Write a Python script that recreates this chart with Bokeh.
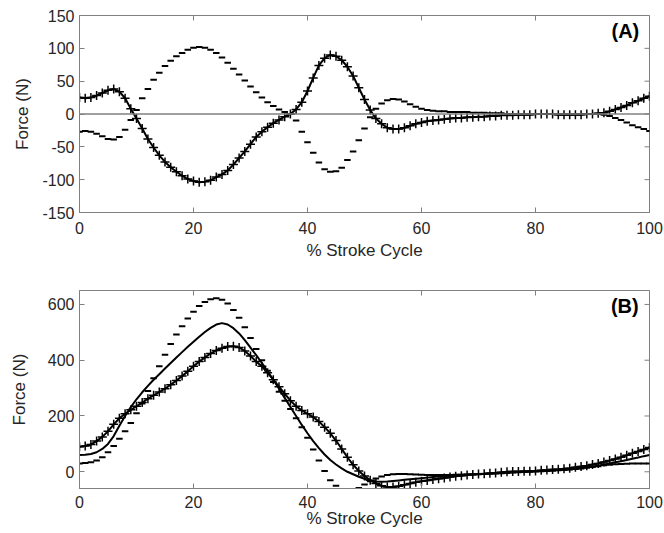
import math
from bokeh.plotting import figure
from bokeh.layouts import column
from bokeh.models import Range1d, Span, Label, FixedTicker
from bokeh.embed import file_html
from bokeh.resources import INLINE

# ---------------- data ----------------
pct = list(range(101))

x_ticks = [0, 20, 40, 60, 80, 100]
x_tick_labels = ["0", "20", "40", "60", "80", "100"]

A_yrange = (-150, 150)
A_yticks = [-150, -100, -50, 0, 50, 100, 150]
A_ytick_labels = ["-150", "-100", "-50", "0", "50", "100", "150"]
B_yrange = (-60, 650)
B_yticks = [0, 200, 400, 600]
B_ytick_labels = ["0", "200", "400", "600"]

# Panel (A)
A_plus = [25, 24, 25, 28, 32, 36, 38, 34, 24, 8,
          -7, -22, -38, -51, -63, -73, -81, -88, -94, -99,
          -102, -104, -103, -101, -96, -92, -86, -77, -67, -57,
          -46, -35, -27, -20, -14, -9, -4, 0, 7, 18,
          35, 55, 74, 85, 90, 88, 82, 72, 58, 40,
          22, 6, -7, -15, -21, -23, -23, -21, -18, -15,
          -13, -11, -10, -9, -8, -7, -6, -6, -5, -5,
          -4, -4, -3, -3, -2, -2, -2, -1, -1, -1,
          0, 0, 0, 0, -1, -1, -1, -1, -1, 0,
          0, 1, 2, 4, 7, 10, 13, 17, 20, 24, 27]

A_dash = [-27, -26, -27, -30, -34, -38, -39, -35, -24, -9,
          6, 24, 38, 52, 63, 73, 81, 88, 93, 98,
          101, 102, 101, 98, 93, 86, 78, 69, 60, 51,
          42, 33, 25, 18, 12, 7, 3, 0, -10, -27,
          -43, -59, -74, -84, -88, -87, -82, -70, -57, -40,
          -22, -5, 8, 16, 21, 23, 22, 19, 15, 11,
          8, 6, 5, 4, 4, 3, 3, 3, 3, 2,
          2, 2, 1, 1, 1, 0, 0, 0, 0, 0,
          0, 0, 0, 0, 0, 0, 0, 0, 0, 0,
          0, 0, -1, -3, -6, -9, -13, -17, -20, -23, -26]

# Panel (B)
B_plus = [90, 92, 98, 110, 125, 145, 170, 192, 208, 222,
          235, 248, 262, 274, 286, 298, 312, 327, 343, 360,
          378, 395, 410, 424, 435, 443, 449, 450, 446, 433,
          415, 395, 378, 355, 330, 305, 280, 255, 235, 220,
          208, 196, 180, 160, 138, 112, 82, 52, 25, 3,
          -15, -30, -42, -50, -55, -55, -52, -47, -42, -38,
          -34, -31, -28, -25, -22, -19, -16, -14, -12, -10,
          -8, -7, -5, -4, -2, 0, 1, 1, 2, 2,
          3, 5, 6, 8, 9, 11, 13, 16, 19, 22,
          26, 30, 35, 40, 46, 52, 59, 66, 73, 80, 87]

B_dash = [30, 31, 34, 40, 52, 70, 92, 118, 145, 175,
          210, 245, 290, 335, 378, 420, 458, 492, 522, 550,
          574, 594, 609, 619, 622, 617, 603, 580, 552, 518,
          480, 440, 400, 362, 322, 287, 255, 225, 192, 160,
          122, 80, 40, 3, -30, -50, -62, -67, -65, -58,
          -46, -34, -24, -17, -12, -9, -8, -8, -9, -10,
          -11, -12, -12, -12, -12, -12, -11, -11, -10, -10,
          -9, -8, -7, -6, -5, -4, -3, -2, -1, 0,
          1, 2, 3, 4, 5, 6, 8, 10, 12, 14,
          17, 20, 23, 25, 27, 28, 29, 30, 30, 30, 30]

B_line = [60, 61, 64, 70, 82, 100, 128, 165, 200, 232,
          260, 285, 308, 330, 350, 370, 390, 410, 429, 448,
          466, 484, 501, 516, 528, 533, 528, 515, 496, 472,
          445, 418, 390, 360, 330, 298, 265, 232, 200, 168,
          138, 110, 85, 62, 42, 26, 12, 0, -9, -18,
          -25, -31, -35, -36, -35, -33, -31, -29, -27, -25,
          -23, -21, -19, -17, -15, -13, -12, -11, -10, -9,
          -8, -7, -6, -5, -4, -3, -2, -1, 0, 1,
          2, 3, 4, 5, 6, 7, 9, 11, 13, 16,
          19, 22, 26, 30, 34, 38, 42, 47, 51, 56, 60]

# ---------------- styling ----------------
GRAY = "#808080"
TXT = "#262626"
FONT = "Liberation Sans"


def style_axis(ax, ticks, labels):
    ax.ticker = FixedTicker(ticks=ticks)
    ax.axis_line_color = GRAY
    ax.major_tick_line_color = GRAY
    ax.major_tick_in = 5
    ax.major_tick_out = 0
    ax.minor_tick_line_color = None
    ax.major_label_overrides = {t: l for t, l in zip(ticks, labels)}
    ax.major_label_text_font = FONT
    ax.major_label_text_font_size = "16px"
    ax.major_label_text_color = TXT
    ax.major_label_standoff = 5
    ax.axis_label_text_font = FONT
    ax.axis_label_text_font_size = "17px"
    ax.axis_label_text_font_style = "normal"
    ax.axis_label_text_color = TXT


def make_fig(height, yr, yticks, ylabels, top, bottom, ylab_standoff, xlab_standoff, xtick_standoff):
    p = figure(width=664, height=height, x_range=Range1d(0, 100), y_range=Range1d(*yr),
               output_backend="svg", toolbar_location=None,
               min_border_left=79, min_border_right=15,
               min_border_top=top, min_border_bottom=bottom)
    p.xgrid.visible = False
    p.ygrid.visible = False
    p.outline_line_color = GRAY
    p.outline_line_width = 1
    p.background_fill_color = "white"
    p.border_fill_color = "white"
    style_axis(p.xaxis[0], x_ticks, x_tick_labels)
    style_axis(p.yaxis[0], yticks, ylabels)
    p.xaxis[0].axis_label = "% Stroke Cycle"
    p.yaxis[0].axis_label = "Force (N)"
    p.yaxis[0].axis_label_standoff = ylab_standoff
    p.xaxis[0].axis_label_standoff = xlab_standoff
    p.xaxis[0].major_label_standoff = xtick_standoff
    # inward tick marks on the top and right edges of the box (clipped to the frame)
    p.scatter(x_ticks, [yr[1]] * len(x_ticks), marker="dash", angle=math.pi / 2,
              size=10, line_color=GRAY, line_width=1)
    p.scatter([100] * len(yticks), yticks, marker="dash", size=10,
              line_color=GRAY, line_width=1)
    return p


# ---------------- panel A ----------------
pA = make_fig(270, A_yrange, A_yticks, A_ytick_labels, 15, 58, 7, 4, 9)
pA.add_layout(Span(location=0, dimension="width", line_color=GRAY, line_width=1.5))
pA.scatter(pct, A_dash, marker="dash", size=6.5, line_width=2, color="black")
pA.line(pct, A_plus, line_width=2, color="black")
pA.scatter(pct, A_plus, marker="cross", size=9, line_width=1.5, color="black")
pA.add_layout(Label(x=98.2, y=126, text="(A)", text_align="right", text_baseline="middle",
                    text_font=FONT, text_font_style="bold", text_font_size="20px",
                    text_color="black"))

# ---------------- panel B ----------------
pB = make_fig(263, B_yrange, B_yticks, B_ytick_labels, 20, 45, 16, -2, 7)
pB.scatter(pct, B_dash, marker="dash", size=6.5, line_width=2, color="black")
pB.line(pct, B_line, line_width=2, color="black")
pB.line(pct, B_plus, line_width=2, color="black")
pB.scatter(pct, B_plus, marker="cross", size=9, line_width=1.5, color="black")
pB.add_layout(Label(x=98.1, y=596, text="(B)", text_align="right", text_baseline="middle",
                    text_font=FONT, text_font_style="bold", text_font_size="20px",
                    text_color="black"))

layout = column(pA, pB, spacing=0)
open("out.html", "w").write(file_html(layout, INLINE))
